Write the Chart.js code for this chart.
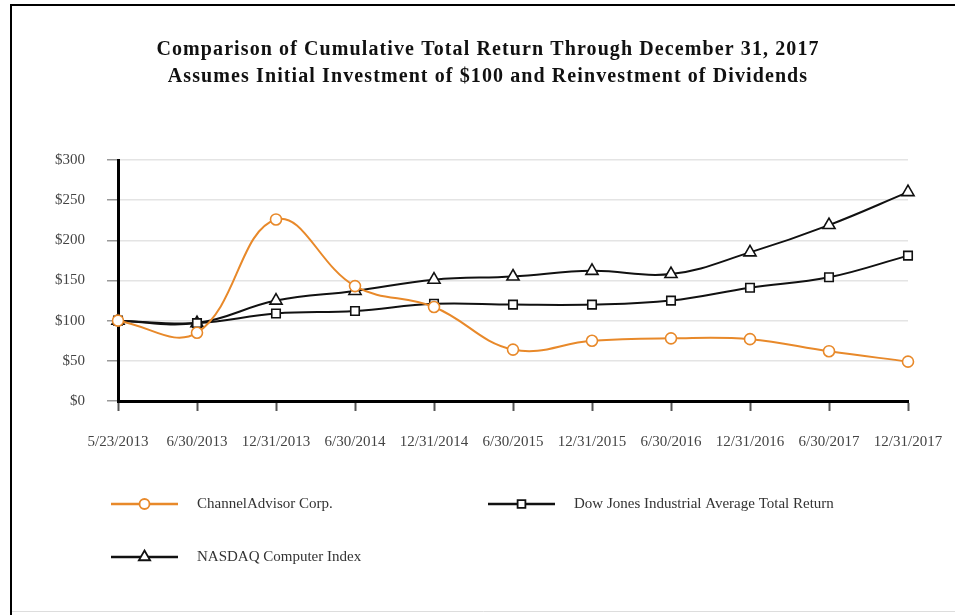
<!DOCTYPE html>
<html>
<head>
<meta charset="utf-8">
<script src="https://cdn.jsdelivr.net/npm/chart.js@4.4.1/dist/chart.umd.min.js"></script>
<style>
  html, body { margin: 0; padding: 0; background: #fff; }
  canvas { display: block; }
</style>
</head>
<body>
<canvas id="grafico" width="955" height="615"></canvas>
<script>
const labels = ['5/23/2013', '6/30/2013', '12/31/2013', '6/30/2014', '12/31/2014', '6/30/2015',
  '12/31/2015', '6/30/2016', '12/31/2016', '6/30/2017', '12/31/2017'];
const channelAdvisor = [100, 85, 226, 143, 117, 64, 75, 78, 77, 62, 49];
const dowJones = [100, 97, 109, 112, 121, 120, 120, 125, 141, 154, 181];
const nasdaqComputer = [100, 97, 125, 137, 151, 155, 162, 158, 185, 219, 260];
const yTicks = [0, 50, 100, 150, 200, 250, 300];

const titleLines = [
  'Comparison of Cumulative Total Return Through December 31, 2017',
  'Assumes Initial Investment of $100 and Reinvestment of Dividends'
];

const serif = '"Liberation Serif", "Times New Roman", serif';
const orange = '#e8892a';

// title, frame and the two-column legend
const decor = {
  id: 'decor',
  afterDraw(chart) {
    const c = chart.ctx;
    c.save();
    c.strokeStyle = '#000';
    c.lineWidth = 2;
    c.beginPath();
    c.moveTo(11, 615);
    c.lineTo(11, 5);
    c.lineTo(955, 5);
    c.stroke();
    c.strokeStyle = '#ddd';
    c.lineWidth = 1;
    c.beginPath();
    c.moveTo(12, 611.5);
    c.lineTo(955, 611.5);
    c.stroke();

    c.fillStyle = '#111';
    c.font = 'bold 20px ' + serif;
    c.letterSpacing = '1.1px';
    c.textAlign = 'center';
    c.textBaseline = 'middle';
    c.fillText(titleLines[0], 488, 50);
    c.fillText(titleLines[1], 488, 77);
    c.letterSpacing = '0px';

    const spots = [[111, 504], [488, 504], [111, 557]];
    chart.data.datasets.forEach((ds, i) => {
      const [x, y] = spots[i];
      c.strokeStyle = ds.borderColor;
      c.lineWidth = 2.5;
      c.beginPath();
      c.moveTo(x, y);
      c.lineTo(x + 67, y);
      c.stroke();
      c.fillStyle = '#fff';
      c.lineWidth = 1.8;
      Chart.helpers.drawPoint(c, {
        pointStyle: ds.pointStyle,
        radius: ds.pointRadius - 0.5,
        rotation: 0,
        borderWidth: 1.8
      }, x + 33.5, y);
      c.fillStyle = '#333';
      c.font = '15px ' + serif;
      c.textAlign = 'left';
      c.fillText(ds.label, x + 86, y);
    });
    c.restore();
  }
};

const ctx = document.getElementById('grafico').getContext('2d');

const chart = new Chart(ctx, {
  type: 'line',
  data: {
    labels: labels,
    datasets: [{
      label: 'ChannelAdvisor Corp.',
      data: channelAdvisor,
      borderColor: orange,
      pointBorderColor: orange,
      pointStyle: 'circle',
      pointRadius: 5.5
    }, {
      label: 'Dow Jones Industrial Average Total Return',
      data: dowJones,
      borderColor: '#111',
      pointBorderColor: '#111',
      pointStyle: 'rect',
      pointRadius: 6
    }, {
      label: 'NASDAQ Computer Index',
      data: nasdaqComputer,
      borderColor: '#111',
      pointBorderColor: '#111',
      pointStyle: 'triangle',
      pointRadius: 7
    }]
  },
  options: {
    responsive: false,
    animation: false,
    layout: { padding: { top: 160, right: 47, bottom: 154, left: 0 } },
    elements: {
      line: { borderWidth: 2, tension: 0.4, fill: false },
      point: { backgroundColor: '#fff', borderWidth: 1.6, hoverRadius: 6 }
    },
    plugins: {
      legend: { display: false },
      title: { display: false },
      tooltip: { enabled: false }
    },
    scales: {
      x: {
        offset: false,
        afterFit: s => { s.height = 60; s.paddingLeft = 0; s.paddingRight = 0; },
        grid: { drawOnChartArea: false, tickLength: 10, tickColor: '#555', tickWidth: 2 },
        border: { color: '#000', width: 3 },
        ticks: {
          color: '#444',
          padding: 22,
          maxRotation: 0,
          autoSkip: false,
          font: { family: serif, size: 15 }
        }
      },
      y: {
        min: 0,
        max: 300,
        afterFit: s => { s.width = 118; s.paddingTop = 0; s.paddingBottom = 0; },
        afterBuildTicks: s => { s.ticks = yTicks.map(v => ({ value: v })); },
        grid: { color: '#e4e4e4', lineWidth: 1.5, tickLength: 11, tickColor: '#999', tickWidth: 1.5 },
        border: { color: '#000', width: 3 },
        ticks: {
          color: '#444',
          padding: 22,
          font: { family: serif, size: 15 },
          callback: v => '$' + v
        }
      }
    }
  },
  plugins: [decor]
});
</script>
</body>
</html>
